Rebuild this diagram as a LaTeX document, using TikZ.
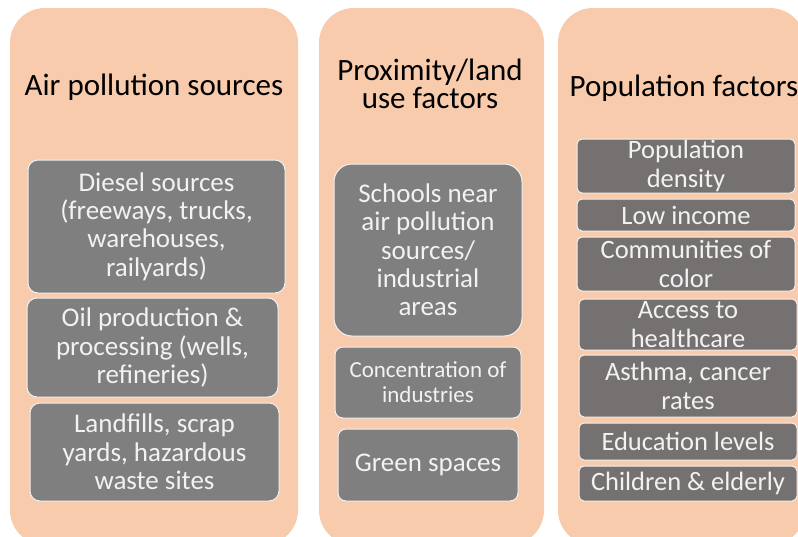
\documentclass[tikz,border=0pt]{standalone}
\usepackage{fontspec}
\setmainfont{Carlito}
\definecolor{peach}{HTML}{F8CBAD}
\definecolor{boxgray}{HTML}{7F7F7F}
\definecolor{warmgray}{HTML}{767171}
\definecolor{offwhite}{HTML}{F2F2F2}
\begin{document}
\begin{tikzpicture}[x=1pt,y=-1pt,
  panel/.style={fill=peach,draw=none,rounded corners=35pt},
  title/.style={font=\fontsize{31}{28.5}\selectfont,text=black,align=center,inner sep=0pt},
  item/.style={draw=offwhite,line width=1pt,fill=boxgray,text=offwhite,align=center,
     font=\fontsize{27}{28.3}\selectfont,inner sep=0pt,rounded corners=10pt},
  pitem/.style={item,fill=warmgray,rounded corners=5pt,font=\fontsize{26.5}{28.3}\selectfont}]
\useasboundingbox (0,0) rectangle (798,536);
\fill[white] (0,0) rectangle (798,536);
% panels
\path[panel] (10,8) rectangle (298,545);
\path[panel] (319,8) rectangle (544,545);
\path[panel] (558,8) rectangle (805,545);
% titles
\node[title] (t1) at (154,87) {Air pollution sources};
\node[title] (t2) at (430,84) {Proximity/land\\use factors};
\node[title] (t3) at (684,88) {Population factors};
% panel 1
\node[item,minimum width=257pt,minimum height=133pt] (d) at (156.5,226.5)
  {Diesel sources\\(freeways, trucks,\\warehouses,\\railyards)};
\node[item,minimum width=251pt,minimum height=99pt] (o) at (152.5,347.5)
  {Oil production \&\\processing (wells,\\refineries)};
\node[item,minimum width=249pt,minimum height=98pt] (l) at (154.5,452)
  {Landfills, scrap\\yards, hazardous\\waste sites};
% panel 2
\node[item,minimum width=188pt,minimum height=172pt,rounded corners=18pt] (s) at (428,250)
  {Schools near\\air pollution\\sources/\\industrial\\areas};
\node[item,minimum width=186pt,minimum height=71pt,rounded corners=8pt,
  font=\fontsize{23}{25}\selectfont] (c) at (428,382.5)
  {Concentration of\\industries};
\node[item,minimum width=180pt,minimum height=72pt,rounded corners=8pt] (g) at (428,465)
  {Green spaces};
% panel 3
\node[pitem,minimum width=218pt,minimum height=54pt] (p1) at (686,166) {Population\\density};
\node[pitem,minimum width=218pt,minimum height=32pt] (p2) at (686,215) {Low income};
\node[pitem,minimum width=218pt,minimum height=54pt] (p3) at (686,264) {Communities of\\color};
\node[pitem,minimum width=218pt,minimum height=51pt] (p4) at (688,324.5) {Access to\\healthcare};
\node[pitem,minimum width=218pt,minimum height=62pt] (p5) at (688,386) {Asthma, cancer\\rates};
\node[pitem,minimum width=218pt,minimum height=37pt] (p6) at (688,441.5) {Education levels};
\node[pitem,minimum width=218pt,minimum height=35pt] (p7) at (688,483.5) {Children \& elderly};
\end{tikzpicture}
\end{document}
